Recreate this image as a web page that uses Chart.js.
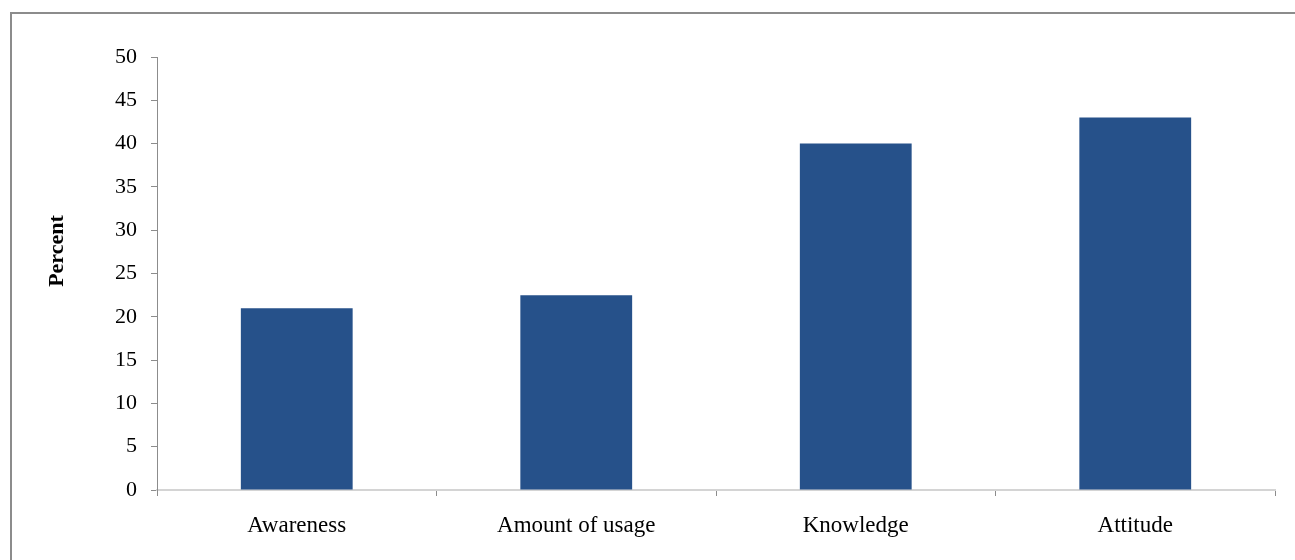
<!DOCTYPE html>
<html>
<head>
<meta charset="utf-8">
<script src="https://cdn.jsdelivr.net/npm/chart.js@4/dist/chart.umd.min.js"></script>
<style>
  html, body { margin: 0; padding: 0; background: #fff; overflow: hidden; }
  #wrap { position: relative; width: 1295px; height: 560px; }
  #frame {
    position: absolute; left: 10px; top: 12px; width: 1300px; height: 560px;
    border-left: 2px solid #8c8c8c; border-top: 2px solid #8c8c8c;
  }
  canvas { position: absolute; left: 0; top: 0; }
</style>
</head>
<body>
<div id="wrap">
  <div id="frame"></div>
  <canvas id="chart" width="1295" height="560"></canvas>
</div>
<script>
'use strict';

var categories = ['Awareness', 'Amount of usage', 'Knowledge', 'Attitude'];
var percents = [21, 22.5, 40, 43];
var yTicks = [0, 5, 10, 15, 20, 25, 30, 35, 40, 45, 50];
var yTitle = 'Percent';

var serif = '"Liberation Serif", "Times New Roman", serif';

// rotated axis title, placed left of the tick labels
var axisTitle = {
  id: 'axisTitle',
  afterDraw: function(chart) {
    var ctx = chart.ctx;
    ctx.save();
    ctx.translate(57, 251);
    ctx.rotate(-Math.PI / 2);
    ctx.font = 'bold 22px ' + serif;
    ctx.fillStyle = '#000';
    ctx.textAlign = 'center';
    ctx.textBaseline = 'middle';
    ctx.fillText(yTitle, 0, 0);
    ctx.restore();
  }
};

var ctx = document.getElementById('chart');
var myChart = new Chart(ctx, {
  type: 'bar',
  data: {
    labels: categories,
    datasets: [{
      label: yTitle,
      data: percents,
      backgroundColor: '#26518a',
      borderWidth: 0,
      barPercentage: 0.4,
      categoryPercentage: 1.0
    }]
  },
  options: {
    responsive: false,
    animation: false,
    layout: { padding: { left: 0, top: 57, right: 20, bottom: 0 } },
    plugins: {
      legend: { display: false },
      tooltip: { enabled: false }
    },
    scales: {
      x: {
        offset: true,
        afterFit: function(scale) { scale.height = 70; },
        grid: {
          offset: true,
          drawOnChartArea: false,
          drawTicks: true,
          tickLength: 6,
          color: '#8c8c8c'
        },
        border: { display: true, color: '#d4d4d4', width: 2 },
        ticks: {
          color: '#000',
          padding: 16,
          maxRotation: 0,
          font: { family: serif, size: 23 }
        }
      },
      y: {
        min: 0,
        max: 50,
        afterFit: function(scale) { scale.width = 157; },
        afterBuildTicks: function(scale) {
          scale.ticks = yTicks.map(function(v) { return { value: v }; });
        },
        grid: {
          drawOnChartArea: false,
          drawTicks: true,
          tickLength: 6,
          color: '#8c8c8c'
        },
        border: { display: true, color: '#8c8c8c', width: 1 },
        ticks: {
          color: '#000',
          padding: 14,
          font: { family: serif, size: 22 }
        }
      }
    }
  },
  plugins: [axisTitle]
});
</script>
</body>
</html>
